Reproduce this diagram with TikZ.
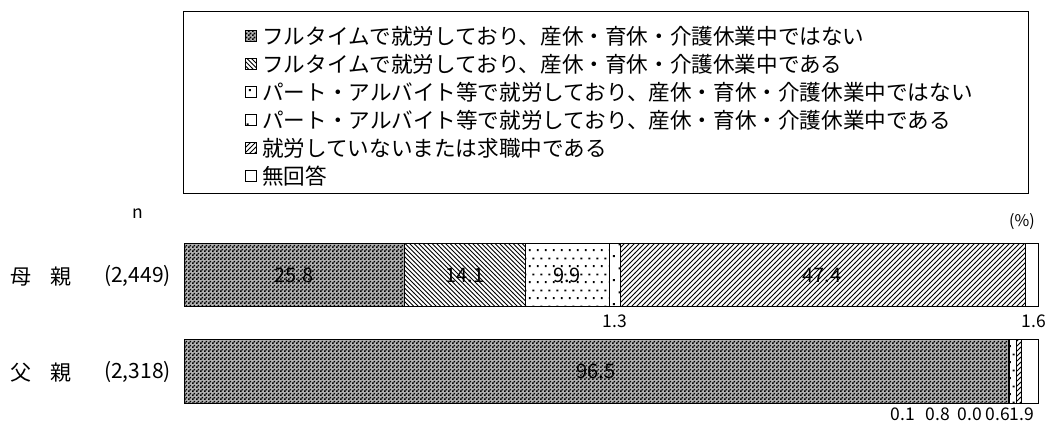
\documentclass[tikz,border=0pt]{standalone}
\usepackage{fontspec}
\setmainfont{Noto Sans CJK JP}
\usetikzlibrary{patterns}

% fill patterns of the bar segments
\pgfdeclarepatternformonly{checker}{\pgfqpoint{0pt}{0pt}}{\pgfqpoint{4pt}{4pt}}{\pgfqpoint{4pt}{4pt}}{%
  \pgfpathrectangle{\pgfqpoint{0pt}{0pt}}{\pgfqpoint{2pt}{2pt}}%
  \pgfpathrectangle{\pgfqpoint{2pt}{2pt}}{\pgfqpoint{2pt}{2pt}}%
  \pgfusepath{fill}}
\pgfdeclarepatternformonly{nwlines}{\pgfqpoint{-1pt}{-1pt}}{\pgfqpoint{5.5pt}{5.5pt}}{\pgfqpoint{4.5pt}{4.5pt}}{%
  \pgfsetlinewidth{0.75pt}%
  \pgfpathmoveto{\pgfqpoint{-0.1pt}{4.6pt}}\pgfpathlineto{\pgfqpoint{4.6pt}{-0.1pt}}%
  \pgfusepath{stroke}}
\pgfdeclarepatternformonly{nelines}{\pgfqpoint{-1pt}{-1pt}}{\pgfqpoint{6pt}{6pt}}{\pgfqpoint{5pt}{5pt}}{%
  \pgfsetlinewidth{0.9pt}%
  \pgfpathmoveto{\pgfqpoint{-0.1pt}{-0.1pt}}\pgfpathlineto{\pgfqpoint{5.1pt}{5.1pt}}%
  \pgfusepath{stroke}}
\pgfdeclarepatternformonly{dotsa}{\pgfqpoint{0pt}{0pt}}{\pgfqpoint{8pt}{16pt}}{\pgfqpoint{8pt}{16pt}}{%
  \pgfpathrectangle{\pgfqpoint{1pt}{1pt}}{\pgfqpoint{2pt}{2pt}}%
  \pgfpathrectangle{\pgfqpoint{5pt}{9pt}}{\pgfqpoint{2pt}{2pt}}%
  \pgfusepath{fill}}
\pgfdeclarepatternformonly{dotsb}{\pgfqpoint{0pt}{0pt}}{\pgfqpoint{12pt}{24pt}}{\pgfqpoint{12pt}{24pt}}{%
  \pgfpathrectangle{\pgfqpoint{1pt}{3pt}}{\pgfqpoint{2pt}{2pt}}%
  \pgfpathrectangle{\pgfqpoint{7pt}{15pt}}{\pgfqpoint{2pt}{2pt}}%
  \pgfusepath{fill}}

\tikzset{
  seg/.style={draw=black, line width=0.8pt},
  full/.style={seg, fill=black!30, postaction={pattern=checker}},
  val/.style={inner sep=0pt, font=\fontsize{20}{20}\selectfont},
  num/.style={inner sep=0pt, font=\fontsize{17.5}{17.5}\selectfont},
  key/.style={draw=black, line width=0.6pt, minimum size=11pt, inner sep=0pt},
  keytext/.style={anchor=west, inner sep=0pt, font=\fontsize{21.6}{21.6}\selectfont},
  row/.style={inner sep=0pt, font=\fontsize{21}{21}\selectfont},
}

\begin{document}
\begin{tikzpicture}[x=1pt,y=-1pt]
  \useasboundingbox (0,0) rectangle (1047,428);

  % Legend
  \draw[line width=1pt] (183,12) rectangle (1028,193);
  \node[key, full] (k1) at (251,36) {};
  \node[keytext] (t1) at (262,36) {フルタイムで就労しており、産休・育休・介護休業中ではない};
  \node[key, pattern=nwlines] (k2) at (251,64) {};
  \node[keytext] (t2) at (262,64) {フルタイムで就労しており、産休・育休・介護休業中である};
  \node[key, pattern=dotsa] (k3) at (251,92) {};
  \node[keytext] (t3) at (262,92) {パート・アルバイト等で就労しており、産休・育休・介護休業中ではない};
  \node[key, pattern=dotsb] (k4) at (251,120) {};
  \node[keytext] (t4) at (262,120) {パート・アルバイト等で就労しており、産休・育休・介護休業中である};
  \node[key, pattern=nelines] (k5) at (251,148) {};
  \node[keytext] (t5) at (262,148) {就労していないまたは求職中である};
  \node[key] (k6) at (251,176) {};
  \node[keytext] (t6) at (262,176) {無回答};

  % Heads
  \node[num] (nhead) at (138,214) {n};
  \node[inner sep=0pt, font=\fontsize{16}{16}\selectfont] (pct) at (1022,222) {(\%)};

  % Mother
  \node[row] (mlab) at (21,277) {母};
  \node[row] (mlab2) at (61,277) {親};
  \node[row, anchor=east] (mn) at (171,276) {(2,449)};
  \draw[full] (184,243) rectangle (404,306);
  \draw[seg, pattern=nwlines] (404,243) rectangle (525,306);
  \draw[seg, pattern=dotsa] (525,243) rectangle (609,306);
  \draw[seg, pattern=dotsb] (609,243) rectangle (620,306);
  \draw[seg, pattern=nelines] (620,243) rectangle (1025,306);
  \draw[seg] (1025,243) rectangle (1038,306);
  \node[val] (m1) at (294,275) {25.8};
  \node[val] (m2) at (465,275) {14.1};
  \node[val] (m3) at (567,275) {9.9};
  \node[val] (m5) at (822,275) {47.4};
  \node[num] (m4) at (615,321) {1.3};
  \node[num] (m6) at (1034,321) {1.6};

  % Father
  \node[row] (flab) at (21,373) {父};
  \node[row] (flab2) at (61,373) {親};
  \node[row, anchor=east] (fn) at (171,372) {(2,318)};
  \draw[full] (184,339) rectangle (1008,403);
  \draw[seg, pattern=nwlines] (1008,339) rectangle (1009,403);
  \draw[seg, pattern=dotsa] (1009,339) rectangle (1016,403);
  \draw[seg, pattern=nelines] (1016,339) rectangle (1021,403);
  \draw[seg] (1021,339) rectangle (1038,403);
  \node[val] (f1) at (596,371) {96.5};
  \node[num] (f2) at (903,414) {0.1};
  \node[num] (f3) at (938,414) {0.8};
  \node[num] (f4) at (970,414) {0.0};
  \node[num] (f5) at (998,414) {0.6};
  \node[num] (f6) at (1022,414) {1.9};
\end{tikzpicture}
\end{document}
